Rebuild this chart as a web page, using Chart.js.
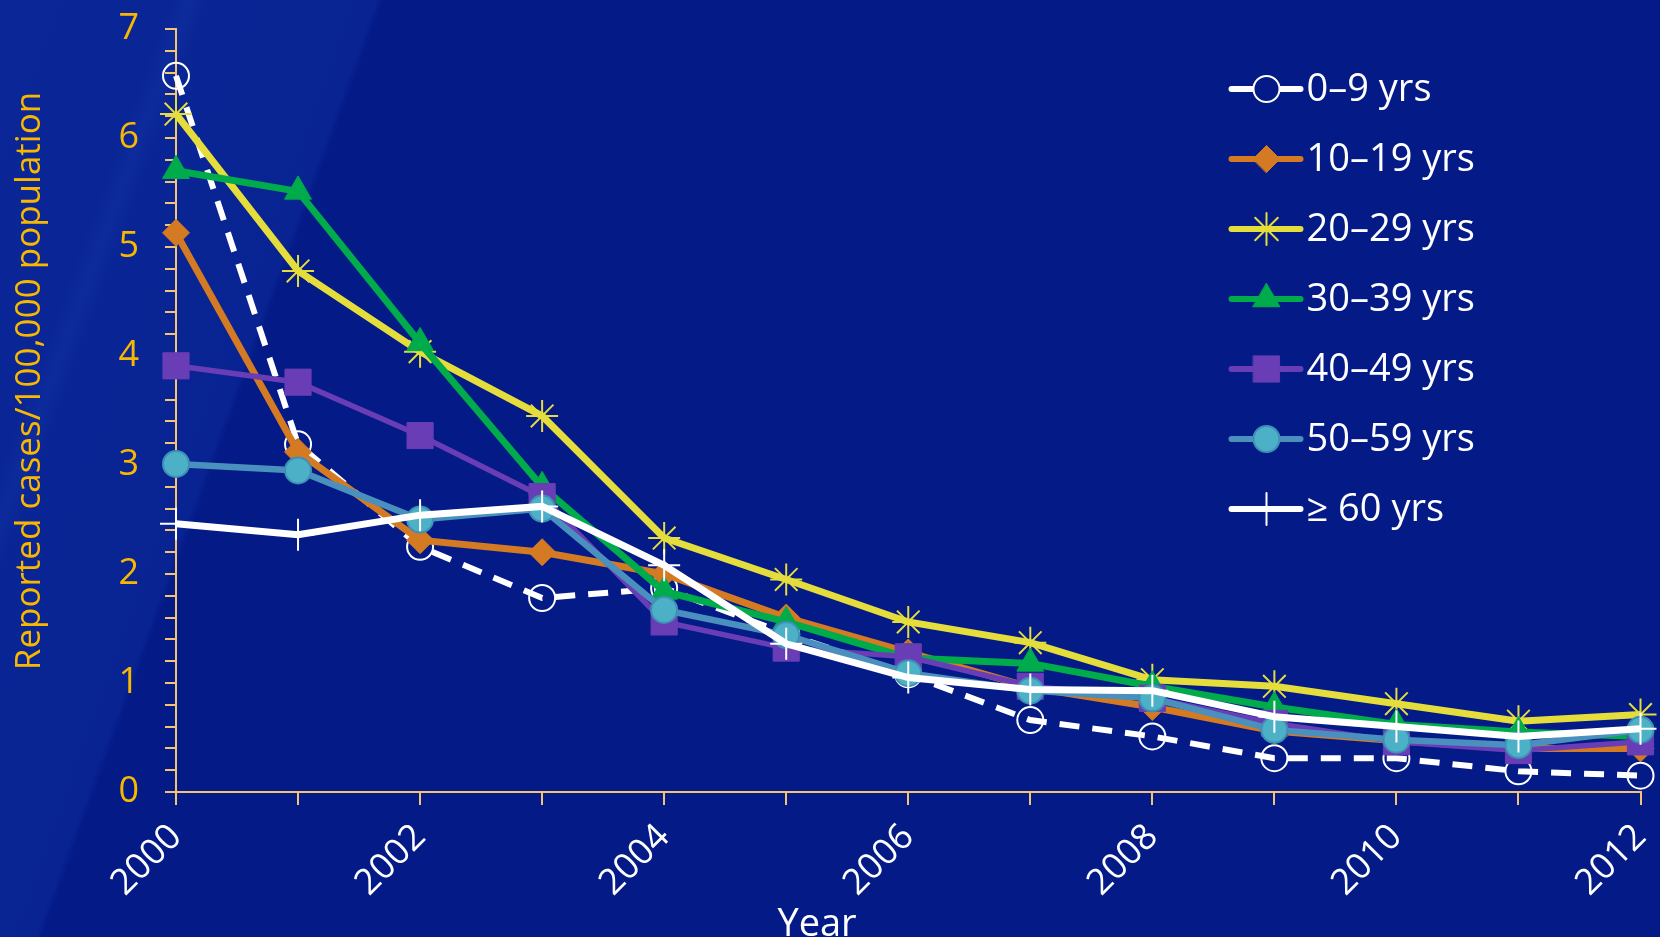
<!DOCTYPE html>
<html>
<head>
<meta charset="utf-8">
<script src="https://cdn.jsdelivr.net/npm/chart.js@4.4.1/dist/chart.umd.min.js"></script>
<style>
  html, body { margin: 0; padding: 0; }
  body {
    width: 1660px;
    height: 937px;
    overflow: hidden;
    background-color: #031a87;
    background-image:
      linear-gradient(110deg, rgba(30,70,190,0.30) 0%, rgba(30,70,190,0.20) 18.8%, rgba(0,0,0,0) 19.2%),
      linear-gradient(110deg, rgba(0,0,0,0) 8.5%, rgba(40,90,210,0.12) 9.5%, rgba(0,0,0,0) 10.5%);
  }
  #wrap { position: relative; width: 1660px; height: 937px; }
</style>
</head>
<body>
<div id="wrap"><canvas id="myChart"></canvas></div>
<script>
const years = ['2000', '2001', '2002', '2003', '2004', '2005', '2006', '2007', '2008', '2009', '2010', '2011', '2012'];
const groups = ['0\u20139 yrs', '10\u201319 yrs', '20\u201329 yrs', '30\u201339 yrs', '40\u201349 yrs', '50\u201359 yrs', '\u2265 60 yrs'];

const cases0to9   = [6.57, 3.19, 2.25, 1.78, 1.87, 1.45, 1.08, 0.66, 0.51, 0.31, 0.31, 0.19, 0.15];
const cases10to19 = [5.13, 3.12, 2.31, 2.20, 2.00, 1.60, 1.28, 0.96, 0.78, 0.56, 0.47, 0.40, 0.40];
const cases20to29 = [6.22, 4.78, 4.04, 3.45, 2.33, 1.95, 1.56, 1.37, 1.03, 0.97, 0.81, 0.65, 0.71];
const cases30to39 = [5.70, 5.51, 4.12, 2.80, 1.84, 1.56, 1.23, 1.18, 0.97, 0.78, 0.62, 0.55, 0.51];
const cases40to49 = [3.91, 3.76, 3.27, 2.71, 1.56, 1.32, 1.24, 0.97, 0.86, 0.63, 0.46, 0.38, 0.46];
const cases50to59 = [3.01, 2.95, 2.50, 2.60, 1.67, 1.44, 1.09, 0.93, 0.86, 0.57, 0.48, 0.43, 0.57];
const cases60plus = [2.46, 2.36, 2.54, 2.62, 2.08, 1.36, 1.05, 0.94, 0.93, 0.69, 0.60, 0.51, 0.58];

const gold = '#f9b800';
const axisColor = '#f4c473';

const datasets = [
  {
    label: groups[0], data: cases0to9,
    borderColor: '#ffffff', borderWidth: 6, borderDash: [20, 13],
    pointStyle: 'circle', pointRadius: 13, pointBackgroundColor: 'rgba(0,0,0,0)',
    pointBorderColor: '#ffffff', pointBorderWidth: 2
  },
  {
    label: groups[1], data: cases10to19,
    borderColor: '#d47a22', borderWidth: 7,
    pointStyle: 'rectRot', pointRadius: 13.5, pointBackgroundColor: '#d47a22',
    pointBorderColor: '#d47a22', pointBorderWidth: 1
  },
  {
    label: groups[2], data: cases20to29,
    borderColor: '#e4dd3c', borderWidth: 7,
    pointStyle: 'star', pointRadius: 16, pointBackgroundColor: '#e4dd3c',
    pointBorderColor: '#e4dd3c', pointBorderWidth: 2
  },
  {
    label: groups[3], data: cases30to39,
    borderColor: '#00ab4c', borderWidth: 7,
    pointStyle: 'triangle', pointRadius: 15.5, pointBackgroundColor: '#00ab4c',
    pointBorderColor: '#00ab4c', pointBorderWidth: 1
  },
  {
    label: groups[4], data: cases40to49,
    borderColor: '#693db6', borderWidth: 5.5,
    pointStyle: 'rect', pointRadius: 18.5, pointBackgroundColor: '#693db6',
    pointBorderColor: '#693db6', pointBorderWidth: 1
  },
  {
    label: groups[5], data: cases50to59,
    borderColor: '#4a90be', borderWidth: 6.5,
    pointStyle: 'circle', pointRadius: 13, pointBackgroundColor: '#4cb0c6',
    pointBorderColor: '#3f8fb6', pointBorderWidth: 2
  },
  {
    label: groups[6], data: cases60plus,
    borderColor: '#ffffff', borderWidth: 7,
    pointStyle: 'cross', pointRadius: 16, pointBackgroundColor: '#ffffff',
    pointBorderColor: '#ffffff', pointBorderWidth: 2
  }
];

// later groups sit on top, like the original
datasets.forEach((d, i) => {
  d.order = datasets.length - 1 - i;
  d.tension = 0;
  d.clip = false;
  d.fill = false;
});

// legend drawn inside the plot, top right
const sideLegend = {
  id: 'sideLegend',
  afterDraw(chart) {
    const ctx = chart.ctx;
    const area = chart.chartArea;
    const x0 = area.right - 409;
    const x1 = area.right - 340;
    const mx = area.right - 374;
    chart.data.datasets.forEach((ds, i) => {
      const y = area.top + 60 + i * 70;
      ctx.save();
      ctx.strokeStyle = ds.borderColor;
      ctx.lineWidth = 6;
      ctx.lineCap = 'round';
      ctx.beginPath();
      ctx.moveTo(x0, y);
      ctx.lineTo(x1, y);
      ctx.stroke();
      ctx.fillStyle = ds.pointBackgroundColor;
      ctx.strokeStyle = ds.pointBorderColor;
      ctx.lineWidth = ds.pointBorderWidth;
      if (i === 0) {
        ctx.fillStyle = '#031a87';
      }
      Chart.helpers.drawPoint(ctx, {
        pointStyle: ds.pointStyle,
        radius: ds.pointRadius,
        rotation: 0,
        borderWidth: ds.pointBorderWidth
      }, mx, y);
      ctx.fillStyle = '#ffffff';
      ctx.font = '38px "Open Sans"';
      ctx.textBaseline = 'middle';
      ctx.textAlign = 'left';
      ctx.fillText(ds.label, area.right - 334, y + 1);
      ctx.restore();
    });
  }
};

// axis titles, placed where the original has them
const axisTitles = {
  id: 'axisTitles',
  afterDraw(chart) {
    const ctx = chart.ctx;
    const area = chart.chartArea;
    ctx.save();
    ctx.fillStyle = gold;
    ctx.font = '35px "Open Sans"';
    ctx.textAlign = 'center';
    ctx.textBaseline = 'middle';
    ctx.translate(30, area.top + 352);
    ctx.rotate(-Math.PI / 2);
    ctx.fillText('Reported cases/100,000 population', 0, 0);
    ctx.restore();

    ctx.save();
    ctx.fillStyle = '#ffffff';
    ctx.font = '38px "Open Sans"';
    ctx.textAlign = 'center';
    ctx.textBaseline = 'alphabetic';
    ctx.fillText('Year', area.left + 641, area.bottom + 144);
    ctx.restore();
  }
};

new Chart(document.getElementById('myChart'), {
  type: 'line',
  data: {
    labels: years,
    datasets: datasets
  },
  options: {
    responsive: true,
    maintainAspectRatio: false,
    animation: false,
    layout: { padding: { top: 29, right: 19, left: 0, bottom: 0 } },
    plugins: {
      legend: { display: false },
      tooltip: { enabled: false }
    },
    scales: {
      x: {
        type: 'category',
        offset: false,
        afterFit: s => { s.height = 145; s.paddingLeft = 0; s.paddingRight = 0; },
        border: { display: true, color: axisColor, width: 2 },
        grid: { drawOnChartArea: false, drawTicks: true, tickLength: 13, color: axisColor, lineWidth: 2 },
        ticks: {
          color: '#ffffff',
          font: { family: 'Open Sans', size: 36 },
          autoSkip: false,
          maxRotation: 45,
          minRotation: 45,
          padding: 11,
          callback: (val, idx) => (idx % 2 === 0 ? years[idx] : '')
        }
      },
      y: {
        min: 0,
        max: 7,
        afterFit: s => { s.width = 176; s.paddingTop = 0; s.paddingBottom = 0; },
        border: { display: true, color: axisColor, width: 2 },
        grid: { drawOnChartArea: false, drawTicks: true, tickLength: 11, color: axisColor, lineWidth: 2 },
        ticks: {
          stepSize: 0.2,
          maxTicksLimit: 50,
          autoSkip: false,
          color: gold,
          font: { family: 'Open Sans', size: 36 },
          padding: 26,
          callback: v => (Math.abs(v - Math.round(v)) < 1e-6 ? String(Math.round(v)) : '')
        }
      }
    }
  },
  plugins: [sideLegend, axisTitles]
});
</script>
</body>
</html>
